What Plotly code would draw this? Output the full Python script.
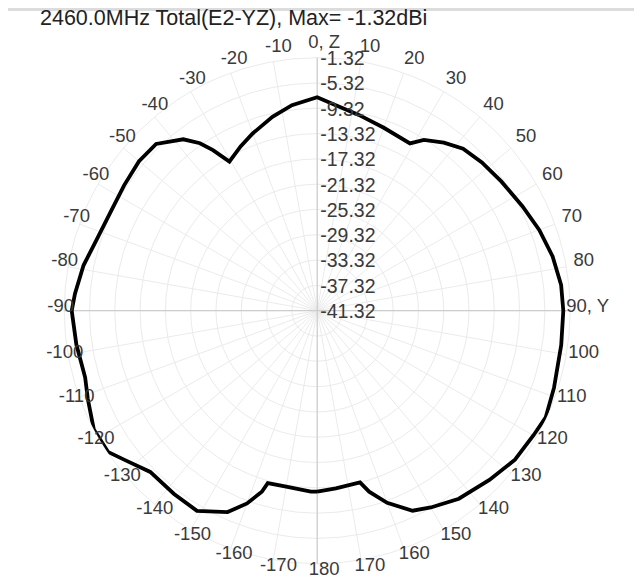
import plotly.graph_objects as go

# ---- data (angle in degrees, clockwise from Z; gain in dBi) ----
theta_deg = [-180, -178, -170, -164, -163, -160, -156, -149, -142, -134, -128, -124,
             -118, -111, -106, -98, -90, -86, -79, -72, -65, -57, -50, -44, -38, -35,
             -33, -30.5, -25, -20, -13, -7, 0, 5, 12, 20, 29, 32, 37, 42, 48, 55, 63,
             70, 77, 84, 90, 98, 108, 115, 120, 127, 134.5, 143, 150, 154.5, 160, 164,
             166, 174, 180]
gain_dbi = [-12.70, -12.69, -13.08, -12.96, -11.39, -8.89, -6.47, -4.40, -4.56, -4.62,
            -2.88, -1.41, -1.32, -2.47, -3.15, -2.87, -2.51, -2.93, -3.69, -4.70, -5.11,
            -4.92, -4.55, -4.66, -6.93, -9.00, -11.06, -13.97, -12.66, -11.50, -9.87,
            -8.58, -7.58, -8.66, -9.67, -10.54, -11.07, -9.49, -8.04, -6.85, -6.28,
            -5.75, -4.91, -3.96, -3.12, -2.54, -2.41, -2.36, -1.95, -1.45, -1.86, -2.17,
            -3.15, -4.10, -5.40, -6.28, -8.99, -11.55, -13.34, -13.08, -12.70]

radial_ticks = [-41.32, -37.32, -33.32, -29.32, -25.32, -21.32, -17.32, -13.32,
                -9.32, -5.32, -1.32]
radial_labels = ["-41.32", "-37.32", "-33.32", "-29.32", "-25.32", "-21.32",
                 "-17.32", "-13.32", "-9.32", "-5.32", "-1.32"]
angle_ticks = list(range(0, 360, 10))
angle_labels = ["0, Z", "10", "20", "30", "40", "50", "60", "70", "80", "90, Y",
                "100", "110", "120", "130", "140", "150", "160", "170", "180",
                "-170", "-160", "-150", "-140", "-130", "-120", "-110", "-100", "-90",
                "-80", "-70", "-60", "-50", "-40", "-30", "-20", "-10"]
cross_ticks = [0, 90, 180, 270]

title_text = "2460.0MHz Total(E2-YZ), Max= -1.32dBi"

# ---- styling / layout constants ----
FONT = "Liberation Sans, Arial, sans-serif"
TXT = "#3a3a3a"
GRID = "#ebebeb"
R_RANGE = [-41.32, -1.32]
W, H = 642, 577
CX, CY, RAD = 309.2, 302.7, 253.0           # polar centre / radius in figure px
LBL_DX, LBL_DY, LBL_RAD = 7.0, 3.5, 263.5    # angular label ring (px)
RL_DX, RL_DY = 3.0, 2.5                      # radial label shift (px)
UNIT = [0, 1]                                # label ring scale


def domain(cx, cy, rad):
    return dict(x=[(cx - rad) / W, (cx + rad) / W],
                y=[(H - cy - rad) / H, (H - cy + rad) / H])


hidden_radial = dict(showgrid=False, showticklabels=False, showline=False, ticks="")
hidden_angular = dict(rotation=90, direction="clockwise", showgrid=False,
                      showticklabels=False, showline=False, ticks="")

fig = go.Figure()
# empty trace keeps the base grid subplot drawn
fig.add_trace(go.Scatterpolar(r=[], theta=[], subplot="polar", showlegend=False,
                              hoverinfo="skip"))
# radial tick labels (drawn through the radial scale of an overlay subplot)
fig.add_trace(go.Scatterpolar(
    r=radial_ticks, theta=[0] * len(radial_ticks), text=radial_labels,
    mode="text", textposition="middle right", subplot="polar4", cliponaxis=False,
    textfont=dict(size=19.5, color=TXT, family=FONT), showlegend=False,
    hoverinfo="skip"))
# antenna pattern
fig.add_trace(go.Scatterpolar(
    r=gain_dbi, theta=theta_deg, mode="lines", subplot="polar2",
    line=dict(color="black", width=3.8), cliponaxis=False, showlegend=False))
# angular labels on the outer edge of their own ring
fig.add_trace(go.Scatterpolar(
    r=[UNIT[1]] * len(angle_ticks), theta=angle_ticks, text=angle_labels,
    mode="text", textposition="middle center", subplot="polar3", cliponaxis=False,
    textfont=dict(size=18.5, color=TXT, family=FONT), showlegend=False,
    hoverinfo="skip"))

fig.update_layout(
    width=W, height=H,
    margin=dict(l=0, r=0, t=0, b=0),
    paper_bgcolor="white",
    font=dict(family=FONT, color=TXT),
    title=dict(text=title_text, x=32 / W, xanchor="left", y=1 - 9.5 / H,
               yanchor="middle", font=dict(size=21.5, color="#222222", family=FONT)),
    polar=dict(
        domain=domain(CX, CY, RAD), bgcolor="white",
        angularaxis=dict(rotation=90, direction="clockwise", tickmode="array",
                         tickvals=angle_ticks, showticklabels=False,
                         gridcolor=GRID, showline=True, linecolor=GRID, ticks=""),
        radialaxis=dict(range=R_RANGE, tickmode="array", tickvals=radial_ticks,
                        showticklabels=False, angle=90, showline=False,
                        gridcolor=GRID, ticks=""),
    ),
    polar2=dict(
        domain=domain(CX, CY, RAD), bgcolor="rgba(0,0,0,0)",
        angularaxis=dict(rotation=90, direction="clockwise", tickmode="array",
                         tickvals=cross_ticks, showticklabels=False,
                         gridcolor="#c6c6c6", showline=False, ticks=""),
        radialaxis=dict(range=R_RANGE, **hidden_radial),
    ),
    polar3=dict(
        domain=domain(CX + LBL_DX, CY - LBL_DY, LBL_RAD), bgcolor="rgba(0,0,0,0)",
        angularaxis=hidden_angular,
        radialaxis=dict(range=UNIT, **hidden_radial),
    ),
    polar4=dict(
        domain=domain(CX + RL_DX, CY + RL_DY, RAD), bgcolor="rgba(0,0,0,0)",
        angularaxis=hidden_angular,
        radialaxis=dict(range=R_RANGE, **hidden_radial),
    ),
    shapes=[dict(type="rect", xref="paper", yref="paper", x0=0, x1=1,
                 y0=1 - 3 / H, y1=1, fillcolor="#dcdcdc", line=dict(width=0),
                 layer="below")],
)

fig.write_html("out.html")
